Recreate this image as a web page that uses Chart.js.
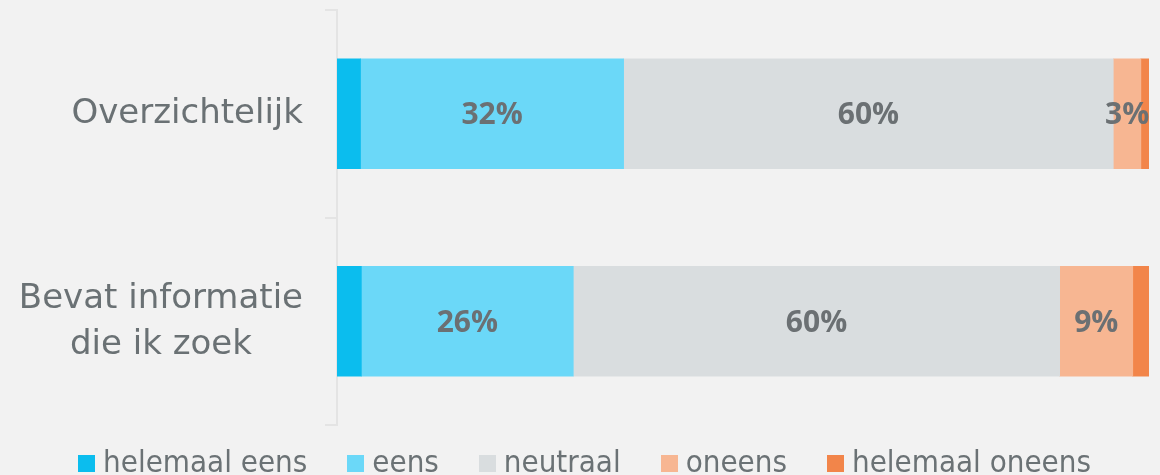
<!DOCTYPE html>
<html>
<head>
<meta charset="utf-8">
<script src="https://cdn.jsdelivr.net/npm/chart.js@4"></script>
<style>
html,body{margin:0;padding:0;background:#f2f2f2;overflow:hidden;}
#wrap{position:relative;width:1160px;height:475px;background:#f2f2f2;overflow:hidden;}
#legend{position:absolute;left:0;top:446px;width:1160px;display:flex;justify-content:center;padding-left:9px;box-sizing:border-box;font-family:"DejaVu Sans Condensed","DejaVu Sans",sans-serif;font-stretch:condensed;font-size:31px;line-height:31px;color:#6b7275;white-space:nowrap;}
.item{display:flex;align-items:flex-start;margin-right:40px;}
.item:last-child{margin-right:0;}
.box{display:inline-block;width:17px;height:17px;margin-top:9px;margin-right:8px;}
</style>
</head>
<body>
<div id="wrap">
<canvas id="c" width="1160" height="475"></canvas>
<div id="legend"></div>
</div>
<script>
const categories = ["Overzichtelijk", ["Bevat informatie", "die ik zoek"]];
const seriesNames = ["helemaal eens", "eens", "neutraal", "oneens", "helemaal oneens"];
const helemaalEens = [2.9, 3.0];
const eens = [32.4, 26.1];
const neutraal = [60.3, 59.9];
const oneens = [3.4, 9.0];
const helemaalOneens = [1.0, 2.0];
const labeledSeries = [false, true, true, true, false];
const colors = ["#0bbdee", "#6bd8f8", "#d9dddf", "#f7b692", "#f2854a"];
const seriesValues = [helemaalEens, eens, neutraal, oneens, helemaalOneens];

const textColor = "#6a7174";

const valueLabels = {
  id: "valueLabels",
  afterDatasetsDraw(chart) {
    const ctx = chart.ctx;
    ctx.save();
    ctx.font = 'bold 30px "Open Sans"';
    ctx.fillStyle = "#6b7073";
    ctx.textAlign = "center";
    ctx.textBaseline = "alphabetic";
    chart.data.datasets.forEach((ds, di) => {
      if (!labeledSeries[di]) return;
      const meta = chart.getDatasetMeta(di);
      meta.data.forEach((el, i) => {
        const v = ds.data[i];
        const x = (el.x + el.base) / 2;
        ctx.fillText(Math.round(v) + "%", x, el.y + 10.5);
      });
    });
    ctx.restore();
  }
};

const catLabels = {
  id: "catLabels",
  afterDraw(chart) {
    const ctx = chart.ctx;
    const ys = chart.scales.y;
    ctx.save();
    ctx.font = '34px "DejaVu Sans"';
    ctx.fillStyle = textColor;
    ctx.textAlign = "center";
    ctx.textBaseline = "alphabetic";
    const right = 303, lineH = 46;
    chart.data.labels.forEach((lab, i) => {
      const lines = Array.isArray(lab) ? lab : [lab];
      const w = Math.max(...lines.map(l => ctx.measureText(l).width));
      const cy = ys.getPixelForValue(i);
      lines.forEach((l, j) => {
        const y = cy + 9.5 + (j - (lines.length - 1) / 2) * lineH;
        ctx.fillText(l, right - w / 2, y);
      });
    });
    ctx.restore();
  }
};

const chart = new Chart(document.getElementById("c"), {
  type: "bar",
  data: {
    labels: categories,
    datasets: seriesNames.map((n, i) => ({
      label: n,
      data: seriesValues[i],
      backgroundColor: colors[i],
      borderWidth: 0,
      barThickness: 110
    }))
  },
  options: {
    indexAxis: "y",
    responsive: false,
    animation: false,
    devicePixelRatio: 1,
    layout: { padding: { top: 10, right: 11, bottom: 50, left: 0 } },
    plugins: { legend: { display: false }, tooltip: { enabled: false }, title: { display: false } },
    scales: {
      x: { stacked: true, min: 0, max: 100, display: false },
      y: {
        stacked: true,
        offset: true,
        ticks: { display: false },
        grid: { offset: true, drawOnChartArea: false, drawTicks: true, tickLength: 12, color: "#e4e4e4", lineWidth: 2 },
        border: { display: true, color: "#e4e4e4", width: 2 },
        afterFit(scale) { scale.width = 337; }
      }
    }
  },
  plugins: [valueLabels, catLabels]
});

const legend = document.getElementById("legend");
chart.data.datasets.forEach(ds => {
  const item = document.createElement("span");
  item.className = "item";
  const box = document.createElement("span");
  box.className = "box";
  box.style.background = ds.backgroundColor;
  const t = document.createElement("span");
  t.textContent = ds.label;
  item.appendChild(box);
  item.appendChild(t);
  legend.appendChild(item);
});
</script>
</body>
</html>
